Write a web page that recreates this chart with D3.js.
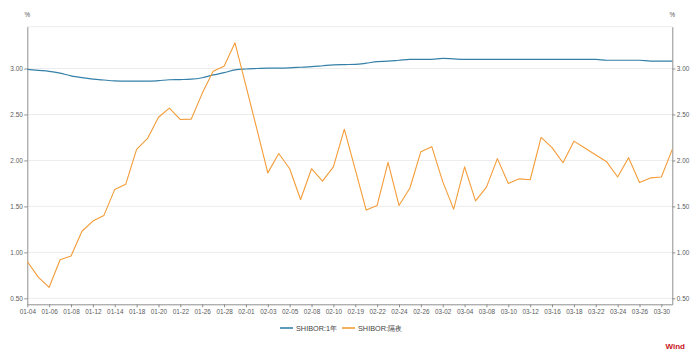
<!DOCTYPE html>
<html><head><meta charset="utf-8">
<script src="https://cdn.jsdelivr.net/npm/d3@7"></script>
<style>
html,body{margin:0;padding:0;background:#fff;}
text{font-family:"Liberation Sans",Arial,sans-serif;}
</style></head>
<body><svg id="c" width="700" height="355"></svg>
<script>
const dates = ["01-04","01-05","01-06","01-07","01-08","01-11","01-12","01-13","01-14","01-15",
"01-18","01-19","01-20","01-21","01-22","01-25","01-26","01-27","01-28","01-29",
"02-01","02-02","02-03","02-04","02-05","02-07","02-08","02-09","02-10","02-18",
"02-19","02-20","02-22","02-23","02-24","02-25","02-26","03-01","03-02","03-03",
"03-04","03-05","03-08","03-09","03-10","03-11","03-12","03-15","03-16","03-17",
"03-18","03-19","03-22","03-23","03-24","03-25","03-26","03-29","03-30","03-31"];
const shibor1y = [2.99,2.98,2.97,2.95,2.92,2.90,2.885,2.875,2.866,2.862,
2.862,2.862,2.868,2.878,2.88,2.884,2.90,2.93,2.955,2.985,
2.995,3.00,3.005,3.005,3.008,3.014,3.02,3.03,3.04,3.043,
3.045,3.058,3.075,3.08,3.09,3.10,3.10,3.10,3.11,3.105,
3.10,3.10,3.10,3.10,3.10,3.10,3.10,3.10,3.10,3.10,
3.10,3.10,3.10,3.09,3.09,3.09,3.09,3.08,3.08,3.08];
const shiborON = [0.90,0.73,0.62,0.92,0.96,1.23,1.34,1.40,1.685,1.74,
2.12,2.24,2.47,2.57,2.445,2.45,2.73,2.97,3.025,3.28,
2.81,2.34,1.865,2.075,1.91,1.575,1.91,1.775,1.93,2.34,
1.90,1.46,1.51,1.98,1.51,1.70,2.095,2.15,1.77,1.47,
1.93,1.56,1.71,2.02,1.75,1.80,1.79,2.25,2.14,1.975,
2.21,2.135,2.06,1.985,1.82,2.03,1.76,1.81,1.82,2.12];
const yTicks = [0.5,1.0,1.5,2.0,2.5,3.0];
const seriesNames = ["SHIBOR:1年","SHIBOR:隔夜"];
const colors = ["#3580a8","#f39c38"];

const svg = d3.select("#c");
const L = 27.3, R = 672.3, T = 26.7, B = 304.3;
const x = d3.scalePoint().domain(dates).range([L,R]);
const y = d3.scaleLinear().domain([0.435,3.455]).range([B,T]);

// grid
svg.append("g").selectAll("line").data(yTicks.concat([3.455])).join("line")
  .attr("x1",L).attr("x2",R).attr("y1",d=>y(d)).attr("y2",d=>y(d))
  .attr("stroke","#ececec").attr("stroke-width",1);

// axes
const tickDates = dates.filter((d,i)=>i%2===0);
const xa = svg.append("g").attr("transform",`translate(0,${B})`)
  .call(d3.axisBottom(x).tickValues(tickDates).tickSize(3).tickSizeOuter(0).tickPadding(2));
const yl = svg.append("g").attr("transform",`translate(${L},0)`)
  .call(d3.axisLeft(y).tickValues(yTicks).tickFormat(d3.format(".2f")).tickSize(3).tickSizeOuter(0).tickPadding(1.5));
const yr = svg.append("g").attr("transform",`translate(${R},0)`)
  .call(d3.axisRight(y).tickValues(yTicks).tickFormat(d3.format(".2f")).tickSize(3).tickSizeOuter(0).tickPadding(1.5));
[xa,yl,yr].forEach(g=>{
  g.select(".domain").attr("stroke","#8f8f8f");
  g.selectAll(".tick line").attr("stroke","#8f8f8f");
  g.selectAll(".tick text").attr("fill","#5a5a5a").style("font-size","6.4px").style("font-family","Liberation Sans, Arial, sans-serif");
});

svg.append("text").attr("x",L).attr("y",17).attr("text-anchor","middle").attr("fill","#555").style("font-size","6.3px").text("%");
svg.append("text").attr("x",R).attr("y",17).attr("text-anchor","middle").attr("fill","#555").style("font-size","6.3px").text("%");

// lines
const l1 = d3.line().x((d,i)=>x(dates[i])).y(d=>y(d)).curve(d3.curveMonotoneX);
const l2 = d3.line().x((d,i)=>x(dates[i])).y(d=>y(d));
svg.append("path").datum(shibor1y).attr("d",l1).attr("fill","none").attr("stroke",colors[0]).attr("stroke-width",1.2);
svg.append("path").datum(shiborON).attr("d",l2).attr("fill","none").attr("stroke",colors[1]).attr("stroke-width",1.1).attr("stroke-linejoin","round");

// legend
const lg = svg.append("g");
const items = [{x:280},{x:342}];
items.forEach((it,i)=>{
  lg.append("line").attr("x1",it.x).attr("x2",it.x+13).attr("y1",328).attr("y2",328).attr("stroke",colors[i]).attr("stroke-width",1.6);
  lg.append("text").attr("x",it.x+16).attr("y",330.6).attr("fill","#444").style("font-size","7.3px").text(seriesNames[i]);
});

svg.append("text").attr("x",685).attr("y",348.5).attr("text-anchor","end").attr("fill","#c8161d").style("font-size","8px").style("font-weight","bold").text("Wind");
</script></body></html>
